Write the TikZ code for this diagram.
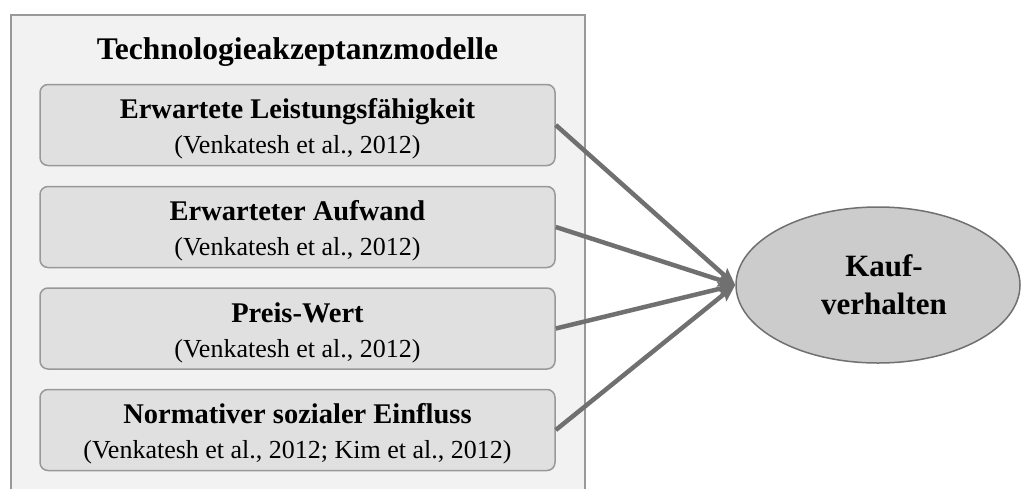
\documentclass[tikz,border=0pt]{standalone}
\usepackage{fontspec}
\setmainfont{Liberation Serif}
\usetikzlibrary{arrows.meta,shapes.geometric}
\definecolor{framegray}{HTML}{999999}
\definecolor{panelfill}{HTML}{F2F2F2}
\definecolor{boxfill}{HTML}{E0E0E0}
\definecolor{arrowgray}{HTML}{707070}
\definecolor{ovalfill}{HTML}{CCCCCC}
% bold heading line and source line of a factor box, set a little below centre
\newcommand{\factortext}[2]{\raisebox{-4pt}[\height][\depth]{%
  \begin{tabular}{@{}c@{}}{\bfseries\fontsize{28.5}{35}\selectfont #1}\\#2\end{tabular}}}
\begin{document}
\begin{tikzpicture}[x=1pt,y=-1pt,
  factor/.style={draw=framegray, line width=1.5pt, fill=boxfill, rounded corners=8pt,
    minimum width=515pt, minimum height=81pt, inner sep=0pt,
    font=\fontsize{26}{35}\selectfont},
  influence/.style={draw=arrowgray, line width=4.5pt,
    -{Stealth[length=17pt,width=14pt,inset=3pt]}}]
  \useasboundingbox (0,0) rectangle (1022,488);
  % outer panel, open at the bottom edge
  \path[fill=panelfill] (10.5,14.5) rectangle (585,500);
  \draw[framegray, line width=2pt] (10.5,500) -- (10.5,14.5) -- (585,14.5) -- (585,500);
  \node[font=\bfseries\fontsize{31.5}{36}\selectfont] (title) at (297.5,52) {Technologieakzeptanzmodelle};
  % four factors
  \node[factor] (f1) at (297.5,125) {\factortext{Erwartete Leistungsfähigkeit}{(Venkatesh et al., 2012)}};
  \node[factor] (f2) at (297.5,227) {\factortext{Erwarteter Aufwand}{(Venkatesh et al., 2012)}};
  \node[factor] (f3) at (297.5,328.5) {\factortext{Preis-Wert}{(Venkatesh et al., 2012)}};
  \node[factor] (f4) at (297.5,430) {\factortext{Normativer sozialer Einfluss}{(Venkatesh et al., 2012; Kim et al., 2012)}};
  % outcome
  \node[draw=arrowgray, line width=1.5pt, fill=ovalfill, ellipse, minimum width=284pt,
    minimum height=156pt, inner sep=0pt, align=center,
    font=\bfseries\fontsize{31}{38}\selectfont] (k) at (878,285)
    {\hspace*{12pt}Kauf-\\\hspace*{12pt}verhalten};
  \foreach \f in {f1,f2,f3,f4}
    \draw[influence] (\f.east) -- (k.west);
\end{tikzpicture}
\end{document}
